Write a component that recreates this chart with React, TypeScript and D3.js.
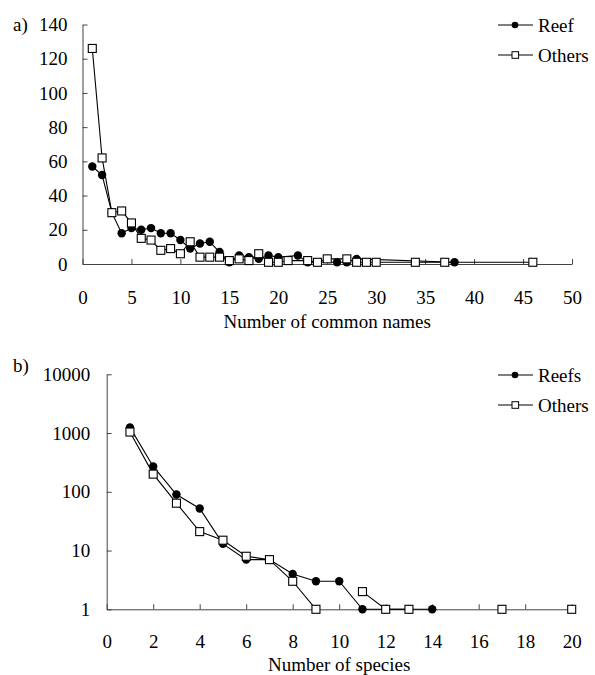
import React, { useEffect, useRef } from "react";
import * as d3 from "d3";

// a) number of common names per species
const namesReefX = [1, 2, 3, 4, 5, 6, 7, 8, 9, 10, 11, 12, 13, 14, 15, 16, 17, 18, 19, 20, 22, 23, 26, 27, 28, 38];
const namesReefY = [57, 52, 30, 18, 21, 20, 21, 18, 18, 14, 9, 12, 13, 7, 1, 5, 4, 3, 5, 4, 5, 1, 1, 1, 3, 1];
const namesOthersX = [1, 2, 3, 4, 5, 6, 7, 8, 9, 10, 11, 12, 13, 14, 15, 16, 17, 18, 19, 20, 21, 23, 24, 25, 27, 28, 29, 30, 34, 37, 46];
const namesOthersY = [126, 62, 30, 31, 24, 15, 14, 8, 9, 6, 13, 4, 4, 4, 2, 3, 2, 6, 1, 1, 2, 2, 1, 3, 3, 1, 1, 1, 1, 1, 1];
const namesXTicks = [0, 5, 10, 15, 20, 25, 30, 35, 40, 45, 50];
const namesYTicks = [0, 20, 40, 60, 80, 100, 120, 140];

// b) number of species per common name (0 = no point, log scale)
const speciesReefX = [1, 2, 3, 4, 5, 6, 7, 8, 9, 10, 11, 12, 13, 14];
const speciesReefY = [1250, 270, 90, 52, 13, 7, 7, 4, 3, 3, 1, 1, 1, 1];
const speciesOthersX = [1, 2, 3, 4, 5, 6, 7, 8, 9, 10, 11, 12, 13, 14, 15, 16, 17, 18, 19, 20];
const speciesOthersY = [1040, 200, 64, 21, 15, 8, 7, 3, 1, 0, 2, 1, 1, 0, 0, 0, 1, 0, 0, 1];
const speciesXTicks = [0, 2, 4, 6, 8, 10, 12, 14, 16, 18, 20];
const speciesYTicks = [1, 10, 100, 1000, 10000];

const legendA = ["Reef", "Others"];
const legendB = ["Reefs", "Others"];

const FONT = "Liberation Serif";
const FS = 19;

const zip = (xs: number[], ys: number[]) => xs.map((x, i) => ({ x, y: ys[i] }));

function drawPanel(g: any, opt: any) {
  const x = opt.x;
  const y = opt.y;

  const xAxis = g
    .append("g")
    .attr("transform", `translate(0,${opt.bottom})`)
    .call(d3.axisBottom(x).tickValues(opt.xTicks).tickSizeInner(-5).tickSizeOuter(0).tickPadding(opt.xPad).tickFormat(d3.format("d")));
  const yAxis = g
    .append("g")
    .attr("transform", `translate(${opt.left},0)`)
    .call(d3.axisLeft(y).tickValues(opt.yTicks).tickSizeInner(-5).tickSizeOuter(0).tickPadding(opt.yPad).tickFormat(d3.format("d")));

  [xAxis, yAxis].forEach(a => {
    a.attr("color", "#444").attr("font-family", FONT).attr("font-size", FS);
    a.selectAll("text").attr("fill", "#000");
  });

  const line = d3
    .line<any>()
    .defined(d => opt.log ? d.y > 0 : true)
    .x(d => x(d.x))
    .y(d => y(d.y));

  opt.series.forEach((s: any, i: number) => {
    g.append("path")
      .attr("d", line(s))
      .attr("fill", "none")
      .attr("stroke", "#000")
      .attr("stroke-width", 1.1);
    const pts = s.filter((d: any) => (opt.log ? d.y > 0 : true));
    if (i === 0) {
      g.selectAll(null)
        .data(pts)
        .enter()
        .append("circle")
        .attr("cx", (d: any) => x(d.x))
        .attr("cy", (d: any) => y(d.y))
        .attr("r", 4.2)
        .attr("fill", "#000");
    } else {
      g.selectAll(null)
        .data(pts)
        .enter()
        .append("rect")
        .attr("x", (d: any) => x(d.x) - 4)
        .attr("y", (d: any) => y(d.y) - 4)
        .attr("width", 8)
        .attr("height", 8)
        .attr("fill", "#fff")
        .attr("stroke", "#000")
        .attr("stroke-width", 1.1);
    }
  });

  // legend
  opt.legend.forEach((name: string, i: number) => {
    const ly = opt.legendY + i * 30;
    g.append("line")
      .attr("x1", 498).attr("x2", 533).attr("y1", ly).attr("y2", ly)
      .attr("stroke", "#000").attr("stroke-width", 1.1);
    if (i === 0) {
      g.append("circle").attr("cx", 515).attr("cy", ly).attr("r", 3.3).attr("fill", "#000");
    } else {
      g.append("rect").attr("x", 512).attr("y", ly - 3.3).attr("width", 6.6).attr("height", 6.6)
        .attr("fill", "#fff").attr("stroke", "#000").attr("stroke-width", 1);
    }
    g.append("text")
      .attr("x", 538).attr("y", ly).attr("dy", "0.35em")
      .attr("font-family", FONT).attr("font-size", FS)
      .text(name);
  });

  g.append("text")
    .attr("x", opt.tagX).attr("y", opt.tagY)
    .attr("font-family", FONT).attr("font-size", FS)
    .text(opt.tag);

  g.append("text")
    .attr("x", (opt.left + opt.right) / 2).attr("y", opt.titleY)
    .attr("text-anchor", "middle")
    .attr("font-family", FONT).attr("font-size", FS)
    .text(opt.title);
}

const App = () => {
  const ref = useRef<SVGSVGElement>(null);

  useEffect(() => {
    const svg = d3.select(ref.current);
    svg.selectAll("*").remove();

    const xa = d3.scaleLinear().domain([0, 50]).range([82.5, 572]);
    const ya = d3.scaleLinear().domain([0, 140]).range([264, 24.5]);
    drawPanel(svg.append("g"), {
      x: xa, y: ya, left: 82.5, right: 572, bottom: 264,
      xTicks: namesXTicks, yTicks: namesYTicks, xPad: 27, yPad: 15, log: false,
      series: [zip(namesReefX, namesReefY), zip(namesOthersX, namesOthersY)],
      legend: legendA, legendY: 25,
      tag: "a)", tagX: 13, tagY: 31,
      title: "Number of common names", titleY: 328,
    });

    const xb = d3.scaleLinear().domain([0, 20]).range([106.7, 571.7]);
    const yb = d3.scaleLog().domain([1, 10000]).range([609.3, 374.3]);
    drawPanel(svg.append("g"), {
      x: xb, y: yb, left: 106.7, right: 571.7, bottom: 609.3,
      xTicks: speciesXTicks, yTicks: speciesYTicks, xPad: 25, yPad: 16.5, log: true,
      series: [zip(speciesReefX, speciesReefY), zip(speciesOthersX, speciesOthersY)],
      legend: legendB, legendY: 375,
      tag: "b)", tagX: 13, tagY: 372,
      title: "Number of species", titleY: 671,
    });
  }, []);

  return (
    <svg
      ref={ref}
      width={595}
      height={675}
      style={{ position: "absolute", left: 0, top: 0, background: "#fff" }}
    />
  );
};

export default App;
